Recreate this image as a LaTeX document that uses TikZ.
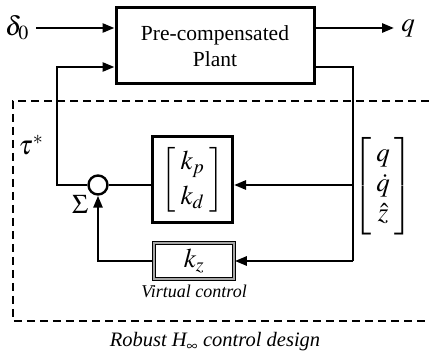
\documentclass[tikz,border=0pt]{standalone}
\usepackage{mathptmx}
\usepackage{fontspec}
\setmainfont{Liberation Serif}
\usetikzlibrary{calc, positioning, arrows.meta}

\begin{document}
\begin{tikzpicture}[x=1pt, y=-1pt,
  font=\fontsize{27}{30}\selectfont,
  >={Triangle[length=12pt,width=9pt]},
  block/.style={draw, line width=3pt, align=center, inner sep=0pt},
  vblock/.style={draw, line width=1.6pt, double=black!35, double distance=1.6pt,
                 minimum width=80pt, minimum height=36pt, inner sep=0pt},
  sig/.style={line width=2.6pt},
  junc/.style={circle, draw, line width=2.4pt, fill=white, minimum size=19pt, inner sep=0pt},
  lbl/.style={inner sep=3pt}
]
\useasboundingbox (0,0) rectangle (429,358);

% plant on top
\node[block, minimum width=198pt, minimum height=76pt, font=\fontsize{21.5}{26}\selectfont] (plant)
  at (215,46) {Pre-compensated\\Plant};
\node[lbl] (delta) at (17,28) {$\delta_0$};
\node[lbl] (q) at (408,28) {$q$};

% controller inside the design frame
\node[junc] (sum) at (98,185) {};
\node[block, minimum width=80pt, minimum height=86pt] (gain) at (192.5,180)
  {$\renewcommand{\arraystretch}{1.15}\left[\begin{array}{c}k_p\\ k_d\end{array}\right]$};
\node[vblock] (kz) at (194,261) {$k_z$};
\node[below=2pt of kz, font=\itshape\fontsize{18}{22}\selectfont] (vlbl) {Virtual control};
\node (meas) at (383,186)
  {$\left[\begin{array}{c}q\\ \dot q\\ \hat z\end{array}\right]$};
\node (tau) at (31,145) {$\tau^*$};
\node (sigma) at (80,204) {$\Sigma$};
\node[font=\itshape\fontsize{20.5}{24}\selectfont] (design) at (215,342) {Robust H$_\infty$ control design};

% design frame
\draw[line width=1.8pt, dash pattern=on 8pt off 5pt] (429,101) -- (13,101) -- (13,321) -- (429,321);

% signal lines
\coordinate (fb) at (57,67);
\coordinate (tap) at (353,67);
\draw[sig, ->, shorten <=4pt] (delta.east) -- (delta.east -| plant.west);
\draw[sig, ->, shorten >=4pt] (plant.east |- q) -- (q.west);
\draw[sig, ->] (sum.west) -| (fb) -- (fb -| plant.west);
\draw[sig] (fb -| plant.east) -- (tap) -- (tap |- kz);
\draw[sig, ->] (tap |- sum) -- (gain.east |- sum);
\draw[sig] (gain.west |- sum) -- (sum.east);
\draw[sig, ->] (tap |- kz) -- (kz.east);
\draw[sig, ->] (kz.west) -| (sum.south);
\end{tikzpicture}
\end{document}
